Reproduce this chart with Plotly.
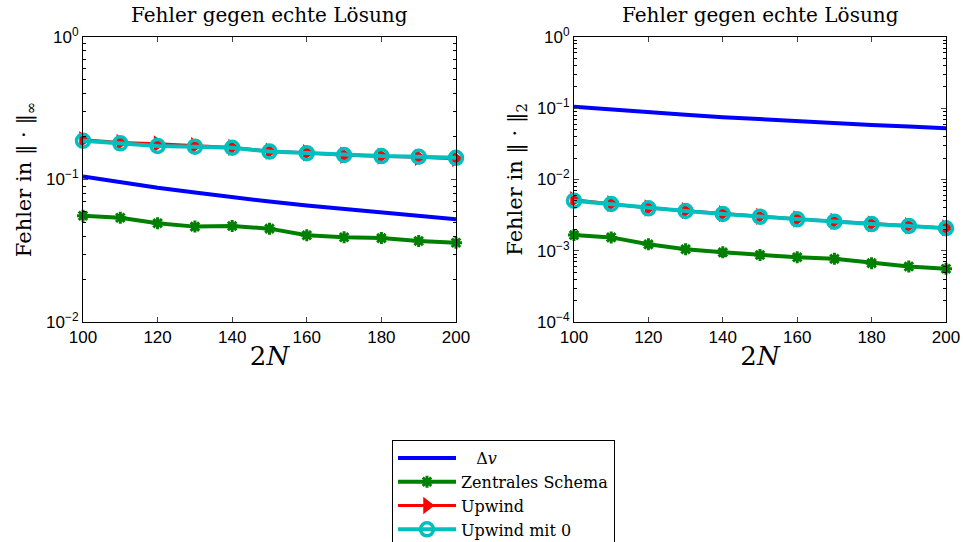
import plotly.graph_objects as go

x_2N = [100, 110, 120, 130, 140, 150, 160, 170, 180, 190, 200]

# Left panel: error in infinity norm
inf_dv = [0.105, 0.0955, 0.0875, 0.081, 0.075, 0.070, 0.0656, 0.0618, 0.0583, 0.0553, 0.0525]
inf_zentral = [0.0557, 0.0539, 0.0493, 0.0467, 0.0472, 0.0452, 0.0406, 0.0393, 0.0388, 0.0370, 0.0360]
inf_upwind = [0.190, 0.182, 0.178, 0.173, 0.168, 0.158, 0.154, 0.148, 0.146, 0.143, 0.140]
inf_upwind0 = [0.187, 0.1795, 0.172, 0.170, 0.167, 0.157, 0.153, 0.1486, 0.146, 0.1445, 0.142]

# Right panel: error in 2-norm
l2_dv = [0.105, 0.0955, 0.0875, 0.081, 0.075, 0.070, 0.0656, 0.0618, 0.0583, 0.0553, 0.0525]
l2_zentral = [0.00166, 0.00154, 0.00123, 0.00105, 0.00095, 0.00087, 0.00081, 0.00077, 0.00067, 0.00060, 0.00056]
l2_upwind = [0.00520, 0.00458, 0.00398, 0.00365, 0.00331, 0.00304, 0.00279, 0.00259, 0.00239, 0.00225, 0.00209]
l2_upwind0 = [0.00505, 0.00453, 0.00394, 0.00361, 0.00328, 0.00301, 0.00276, 0.00256, 0.00237, 0.00223, 0.00207]

names = ["\u00a0\u00a0\u00a0Δ<i>v</i>", "Zentrales Schema", "Upwind", "Upwind mit 0"]
colors = ["#0000FF", "#008000", "#FF0000", "#00BFBF"]

left_ticks = [0.01, 0.1, 1]
left_ticktext = ["10<sup>−2</sup>", "10<sup>−1</sup>", "10<sup>0</sup>"]
right_ticks = [1e-4, 1e-3, 1e-2, 1e-1, 1]
right_ticktext = ["10<sup>−4</sup>", "10<sup>−3</sup>", "10<sup>−2</sup>", "10<sup>−1</sup>", "10<sup>0</sup>"]
x_ticks = [100, 120, 140, 160, 180, 200]

serif = "DejaVu Serif, serif"
sans = "Liberation Sans, Arial, sans-serif"

fig = go.Figure()


def add_panel(xa, ya, ys, show):
    dv, zen, up, up0 = ys
    fig.add_trace(go.Scatter(x=x_2N, y=dv, mode="lines", name=names[0],
                             line=dict(color=colors[0], width=4), xaxis=xa, yaxis=ya,
                             showlegend=show, legendgroup="a", cliponaxis=False))
    fig.add_trace(go.Scatter(x=x_2N, y=zen, mode="lines+markers", name=names[1],
                             line=dict(color=colors[1], width=4),
                             marker=dict(symbol="asterisk-open", size=10, color=colors[1],
                                         line=dict(color=colors[1], width=3)),
                             xaxis=xa, yaxis=ya, showlegend=show, legendgroup="b", cliponaxis=False))
    fig.add_trace(go.Scatter(x=x_2N, y=up, mode="lines+markers", name=names[2],
                             line=dict(color=colors[2], width=3),
                             marker=dict(symbol="triangle-right", size=15, color=colors[2]),
                             xaxis=xa, yaxis=ya, showlegend=show, legendgroup="c", cliponaxis=False))
    fig.add_trace(go.Scatter(x=x_2N, y=up0, mode="lines+markers", name=names[3],
                             line=dict(color=colors[3], width=4),
                             marker=dict(symbol="circle-open", size=13, color=colors[3],
                                         line=dict(color=colors[3], width=3.5)),
                             xaxis=xa, yaxis=ya, showlegend=show, legendgroup="d", cliponaxis=False))


add_panel("x", "y", (inf_dv, inf_zentral, inf_upwind, inf_upwind0), True)
add_panel("x2", "y2", (l2_dv, l2_zentral, l2_upwind, l2_upwind0), False)

W, H = 963, 542
ytop = 1 - 37 / H
ybot = 1 - 322 / H


def minor_vals(lo, hi):
    vals = []
    for e in range(lo, hi):
        for m in range(2, 10):
            vals.append(m * 10 ** e)
    return vals


xcommon = dict(range=[100, 200], tickvals=x_ticks, ticks="inside", ticklen=5, automargin=False,
               showline=True, linecolor="black", linewidth=1, mirror="ticks",
               showgrid=False, zeroline=False, tickfont=dict(family=sans, size=17, color="black"),
               title=dict(text="2<i>N</i>", font=dict(family=serif, size=26, color="black"), standoff=0))

ycommon = dict(type="log", ticks="inside", ticklen=5, automargin=False,
               showline=True, linecolor="black", linewidth=1, mirror="ticks", showgrid=False,
               tickfont=dict(family=sans, size=17, color="black"))

fig.update_layout(
    width=W, height=H,
    margin=dict(l=0, r=0, t=0, b=0, autoexpand=False),
    paper_bgcolor="white", plot_bgcolor="white",
    xaxis=dict(domain=[83 / W, 456 / W], anchor="y", **xcommon),
    xaxis2=dict(domain=[574 / W, 946 / W], anchor="y2", **xcommon),
    yaxis=dict(domain=[ybot, ytop], anchor="x", range=[-2, 0],
               tickvals=left_ticks, ticktext=left_ticktext,
               minor=dict(tickvals=minor_vals(-2, 0), ticks="inside", ticklen=3, tickcolor="black", showgrid=False),
               title=dict(text="Fehler in ‖ · ‖<sub>∞</sub>", font=dict(family=serif, size=21, color="black"), standoff=8),
               **ycommon),
    yaxis2=dict(domain=[ybot, ytop], anchor="x2", range=[-4, 0],
                tickvals=right_ticks, ticktext=right_ticktext,
                minor=dict(tickvals=minor_vals(-4, 0), ticks="inside", ticklen=3, tickcolor="black", showgrid=False),
                title=dict(text="Fehler in ‖ · ‖<sub>2</sub>", font=dict(family=serif, size=21, color="black"), standoff=8),
                **ycommon),
    legend=dict(x=392 / W, y=1 - 440 / H, xanchor="left", yanchor="top",
                bgcolor="white", bordercolor="black", borderwidth=1,
                font=dict(family=serif, size=16, color="black"),
                tracegroupgap=0, itemwidth=58),
    annotations=[
        dict(text="Fehler gegen echte Lösung", x=(83 + 456) / 2 / W, y=1 - 15 / H, xref="paper", yref="paper",
             showarrow=False, font=dict(family=serif, size=20, color="black"), xanchor="center", yanchor="middle"),
        dict(text="Fehler gegen echte Lösung", x=(574 + 946) / 2 / W, y=1 - 15 / H, xref="paper", yref="paper",
             showarrow=False, font=dict(family=serif, size=20, color="black"), xanchor="center", yanchor="middle"),
    ],
)

fig.write_html("out.html")
